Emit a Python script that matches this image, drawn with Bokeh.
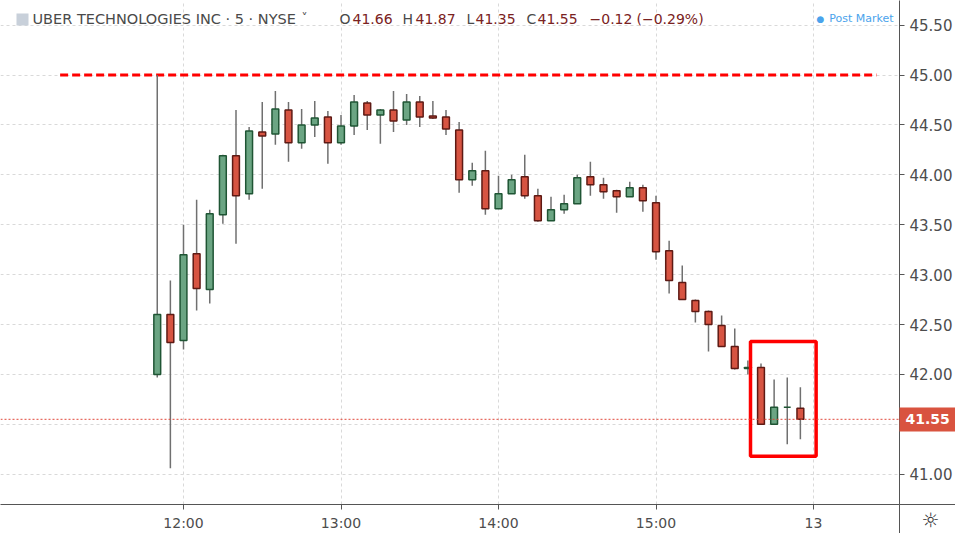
from bokeh.plotting import figure
from bokeh.models import FixedTicker, Label, Span, ColumnDataSource, Range1d
from bokeh.core.properties import value
from bokeh.embed import file_html
from bokeh.resources import INLINE

# ---------------- data ----------------
times = ["11:50", "11:55", "12:00", "12:05", "12:10", "12:15", "12:20", "12:25", "12:30", "12:35",
         "12:40", "12:45", "12:50", "12:55", "13:00", "13:05", "13:10", "13:15", "13:20", "13:25",
         "13:30", "13:35", "13:40", "13:45", "13:50", "13:55", "14:00", "14:05", "14:10", "14:15",
         "14:20", "14:25", "14:30", "14:35", "14:40", "14:45", "14:50", "14:55", "15:00", "15:05",
         "15:10", "15:15", "15:20", "15:25", "15:30", "15:35", "15:40", "15:45", "15:50", "15:55"]
opens = [42.00, 42.60, 42.34, 43.21, 42.85, 43.60, 44.19, 43.81, 44.43, 44.41,
         44.65, 44.32, 44.50, 44.58, 44.32, 44.49, 44.72, 44.60, 44.65, 44.55,
         44.73, 44.59, 44.58, 44.45, 43.95, 44.04, 43.66, 43.81, 43.98, 43.79,
         43.54, 43.65, 43.71, 43.98, 43.90, 43.84, 43.78, 43.87, 43.72, 43.24,
         42.92, 42.74, 42.63, 42.49, 42.28, 42.06, 42.07, 41.50, 41.67, 41.66]
highs = [45.00, 42.94, 43.50, 43.75, 43.65, 44.20, 44.65, 44.48, 44.73, 44.84,
         44.73, 44.66, 44.74, 44.64, 44.60, 44.80, 44.74, 44.66, 44.84, 44.81,
         44.79, 44.74, 44.65, 44.53, 44.12, 44.24, 43.99, 44.00, 44.20, 43.86,
         43.78, 43.80, 44.00, 44.13, 43.97, 43.85, 43.93, 43.90, 43.79, 43.34,
         43.09, 42.75, 42.64, 42.59, 42.46, 42.14, 42.11, 41.95, 41.97, 41.87]
lows = [41.97, 41.06, 42.25, 42.64, 42.71, 43.51, 43.31, 43.75, 43.86, 44.30,
        44.13, 44.26, 44.38, 44.11, 44.30, 44.40, 44.45, 44.31, 44.43, 44.50,
        44.48, 44.56, 44.40, 43.82, 43.89, 43.60, 43.66, 43.81, 43.76, 43.53,
        43.54, 43.61, 43.71, 43.79, 43.76, 43.62, 43.78, 43.63, 43.15, 42.81,
        42.75, 42.52, 42.23, 42.28, 42.05, 42.00, 41.50, 41.50, 41.30, 41.35]
closes = [42.60, 42.32, 43.20, 42.86, 43.61, 44.19, 43.79, 44.44, 44.39, 44.66,
          44.32, 44.50, 44.57, 44.32, 44.49, 44.73, 44.60, 44.65, 44.54, 44.73,
          44.58, 44.57, 44.46, 43.95, 44.04, 43.66, 43.81, 43.95, 43.79, 43.54,
          43.65, 43.71, 43.97, 43.90, 43.83, 43.78, 43.87, 43.74, 43.23, 42.94,
          42.75, 42.63, 42.50, 42.28, 42.06, 42.07, 41.50, 41.67, 41.67, 41.55]

last_price = 41.55
alert_level = 45.00
alert_span = ["11:13", "16:24"]          # drawn alert line start / end
box_times = ["15:36", "16:01"]           # highlight box left / right
box_prices = [41.18, 42.33]              # highlight box bottom / top

x_tick_times = ["12:00", "13:00", "14:00", "15:00", "16:00"]
x_tick_labels = ["12:00", "13:00", "14:00", "15:00", "13"]
y_ticks = [41.0, 41.5, 42.0, 42.5, 43.0, 43.5, 44.0, 44.5, 45.0, 45.5]

symbol_text = "UBER TECHNOLOGIES INC \u00b7 5 \u00b7 NYSE"
ohlc_letters = ["O", "H", "L", "C"]
ohlc_values = ["41.66", "41.87", "41.35", "41.55"]
change_text = ["\u22120.12", "(\u22120.29%)"]


def to_min(t):
    h, m = t.split(":")
    return int(h) * 60 + int(m)


# ---------------- layout calibration (reference pixels -> data) ----------------
PX_PER_MIN = 13.125 / 5.0
PX_PER_USD = 99.8


def xm(px):
    return to_min("11:50") + (px - 156.75) / PX_PER_MIN


def yp(py):
    return 45.0 - (py - 74.5) / PX_PER_USD


X0, X1 = xm(0), xm(899)
Y0, Y1 = yp(504), yp(0)

FONT = "DejaVu Sans"
UP_FILL, UP_LINE = "#6ba583", "#1f5534"
DN_FILL, DN_LINE = "#d75442", "#5e1a14"
AX = "#555555"

t = [to_min(s) for s in times]
up = [c >= o for o, c in zip(opens, closes)]
src = ColumnDataSource(dict(
    t=t,
    high=highs,
    low=lows,
    top=[max(o, c) for o, c in zip(opens, closes)],
    bottom=[min(o, c) for o, c in zip(opens, closes)],
    fill=[UP_FILL if u else DN_FILL for u in up],
    line=[UP_LINE if u else DN_LINE for u in up],
))

p = figure(frame_width=899, frame_height=504,
           x_range=Range1d(X0, X1), y_range=Range1d(Y0, Y1),
           output_backend="svg", toolbar_location=None,
           x_axis_location="below", y_axis_location="right",
           min_border_left=0, min_border_top=0, min_border_right=53, min_border_bottom=28)
p.outline_line_color = None
p.background_fill_color = "white"
p.border_fill_color = "white"

# grid
p.xgrid.ticker = FixedTicker(ticks=[to_min(s) for s in x_tick_times])
p.ygrid.ticker = FixedTicker(ticks=y_ticks)
for g in (p.xgrid, p.ygrid):
    g.grid_line_color = "#d9d9d9"
    g.grid_line_dash = "3 3"
    g.grid_line_width = 1

# axes
p.xaxis.ticker = FixedTicker(ticks=[to_min(s) for s in x_tick_times])
p.xaxis.major_label_overrides = {to_min(s): lab for s, lab in zip(x_tick_times, x_tick_labels)}
p.yaxis.ticker = FixedTicker(ticks=y_ticks)
p.yaxis.major_label_overrides = {v: ("" if abs(v - 41.5) < 1e-9 else "%.2f" % v) for v in y_ticks}
for ax in (p.xaxis, p.yaxis):
    ax.axis_line_color = AX
    ax.major_tick_line_color = AX
    ax.major_tick_in = 0
    ax.major_tick_out = 5
    ax.minor_tick_line_color = None
    ax.major_label_text_font = FONT
    ax.major_label_text_color = "#4d4d4d"
p.xaxis.major_label_text_font_size = "14px"
p.xaxis.major_label_standoff = 5
p.yaxis.major_label_text_font_size = "15px"
p.yaxis.major_label_standoff = 5

# last price line
p.add_layout(Span(location=last_price, dimension="width", line_color="#e0483a",
                  line_dash="2 2", line_width=1))

# alert line
p.segment(x0=[to_min(alert_span[0])], x1=[to_min(alert_span[1])],
          y0=[alert_level], y1=[alert_level], line_color="#ff0000", line_width=3,
          line_dash="8 4")

# candles
p.segment(x0="t", x1="t", y0="low", y1="high", source=src, line_color="#707070", line_width=1.5)
p.vbar(x="t", width=2.6, top="top", bottom="bottom", source=src,
       fill_color="fill", line_color="line", line_width=1.5)

# highlight box
p.quad(left=[to_min(box_times[0])], right=[to_min(box_times[1])],
       bottom=[box_prices[0]], top=[box_prices[1]],
       fill_color=None, line_color="#ff0000", line_width=3.5)

# header
p.quad(left=[xm(16)], right=[xm(28)], bottom=[yp(25)], top=[yp(13)],
       fill_color="#c8d0da", line_color=None)
hy = yp(18)
p.add_layout(Label(x=xm(32), y=hy, text=symbol_text, text_font=FONT, text_font_size="14.5px",
                   text_color="#4a4a4a", text_baseline="middle", text_align="left"))
p.add_layout(Label(x=xm(304), y=yp(17), text="\u02c5", text_font=FONT, text_font_size="12px",
                   text_color="#4a4a4a", text_baseline="middle", text_align="center"))
letter_px = [339, 402, 466, 526]
value_px = [352, 415, 475, 537]
for lp, vp, lt, vt in zip(letter_px, value_px, ohlc_letters, ohlc_values):
    p.add_layout(Label(x=xm(lp), y=hy, text=lt, text_font=FONT, text_font_size="14px",
                       text_color="#4a4a4a", text_baseline="middle", text_align="left"))
    p.add_layout(Label(x=xm(vp), y=hy, text=vt, text_font=FONT, text_font_size="14px",
                       text_color="#7a2222", text_baseline="middle", text_align="left"))
for cp, ct in zip([589, 636], change_text):
    p.add_layout(Label(x=xm(cp), y=hy, text=ct, text_font=FONT, text_font_size="14px",
                       text_color="#7a2222", text_baseline="middle", text_align="left"))
p.add_layout(Label(x=xm(820), y=hy, text="\u25cf", text_font=FONT, text_font_size="9px",
                   text_color="#4aa3ec", text_baseline="middle", text_align="center"))
p.add_layout(Label(x=xm(893), y=hy, text="Post Market", text_font=FONT, text_font_size="11px",
                   text_color="#4aa3ec", text_baseline="middle", text_align="right"))

# ---- items in the axis area (overlay level so they are not clipped to the frame) ----
p.segment(x0=[X1], x1=[X1], y0=[Y0], y1=[yp(540)], line_color=AX, line_width=1, level="overlay")
p.segment(x0=[X1], x1=[xm(960)], y0=[Y0], y1=[Y0], line_color=AX, line_width=1, level="overlay")
p.quad(left=[X1], right=[xm(960)], bottom=[yp(431)], top=[yp(407)],
       fill_color="#d9533f", line_color=None, level="overlay")
p.text(x=[xm(905)], y=[last_price], text=["%.2f" % last_price], text_font=value(FONT),
       text_font_size="14px", text_font_style="bold", text_color="white",
       text_baseline="middle", text_align="left", level="overlay")
p.text(x=[xm(930)], y=[yp(519)], text=["\u263c"], text_font=value(FONT),
       text_font_size="20px", text_color="#333333",
       text_baseline="middle", text_align="center", level="overlay")

open("out.html", "w").write(file_html(p, INLINE))
